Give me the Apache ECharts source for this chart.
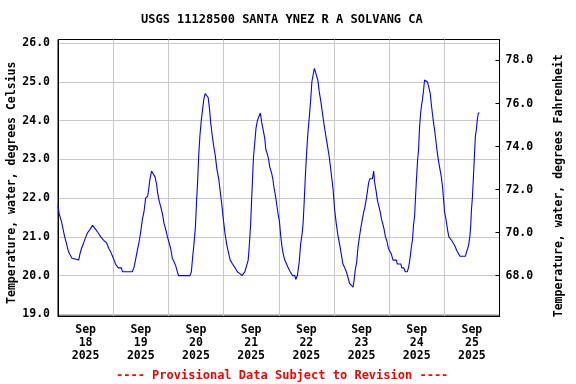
<!DOCTYPE html>
<html>
<head>
<meta charset="utf-8">
<script src="https://cdn.jsdelivr.net/npm/echarts@6/dist/echarts.min.js"></script>
<style>html,body{margin:0;padding:0;background:#fff}#c{width:576px;height:384px}</style>
</head>
<body>
<div id="c"></div>
<script>
// Hours since 2025-09-18 00:00 and water temperature (deg C)
const hours = [0,0.5,1.5,2.2,2.9,3.6,4.4,5.1,6.1,6.5,9.0,9.5,10.2,11.2,12.1,12.8,14.0,15.0,15.5,16.3,17.5,18.6,20.0,21.1,22.1,23.0,23.7,24.4,25.0,26.2,27.6,28.0,32.3,33.0,33.7,34.5,35.2,35.9,36.7,37.4,38.1,39.0,39.6,40.0,40.7,41.5,42.2,42.9,43.3,43.9,44.8,45.4,46.1,46.8,47.6,48.3,49.0,49.7,50.5,51.2,52.4,57.4,58.0,58.6,59.2,59.8,60.2,60.7,61.2,61.7,62.3,62.9,63.4,64.0,64.7,65.3,65.9,66.4,67.0,67.7,68.4,69.1,69.9,70.6,71.3,72.0,72.7,73.4,74.1,74.9,75.9,77.0,78.0,79.1,80.0,80.6,81.3,82.0,82.7,83.1,83.7,84.1,84.6,85.0,85.6,86.1,86.7,87.3,88.0,88.6,89.1,89.9,90.4,91.0,91.6,92.1,92.9,93.4,94.0,94.6,95.1,95.7,96.3,96.9,97.4,98.0,98.6,99.4,100.1,101.0,102.0,103.0,103.4,104.1,104.9,105.5,106.2,106.6,107.1,107.6,108.1,108.7,109.3,109.9,110.4,111.0,111.5,111.9,112.3,113.0,113.6,114.3,115.0,115.7,116.5,117.2,118.0,118.8,119.6,120.3,121.0,121.7,122.5,123.2,123.9,124.7,125.4,126.1,126.8,127.6,128.3,128.7,129.3,129.9,130.5,131.1,131.6,132.2,132.8,133.4,134.0,134.5,135.1,135.6,136.7,137.3,137.7,138.3,138.9,139.5,140.1,140.7,141.2,141.8,142.4,143.0,143.7,144.3,145.0,145.7,147.2,147.5,149.1,149.5,150.4,151.0,151.9,152.4,153.0,153.6,154.2,154.6,155.1,155.5,155.9,156.4,156.8,157.2,157.7,158.1,158.5,159.0,159.4,160.1,160.7,161.3,161.9,162.3,162.8,163.2,163.8,164.4,164.9,165.5,166.1,166.7,167.3,167.7,168.1,168.6,169.0,169.5,170.0,170.8,171.3,171.9,172.7,173.4,174.1,174.8,177.2,177.6,178.2,178.6,179.1,179.5,179.8,180.2,180.7,181.1,181.5,181.9,182.4,182.8,183.3];
const tempsC = [21.8,21.6,21.4,21.2,21.0,20.85,20.65,20.55,20.45,20.4,20.4,20.55,20.7,20.85,21.0,21.1,21.2,21.3,21.3,21.2,21.1,21.0,20.9,20.85,20.7,20.6,20.5,20.4,20.3,20.2,20.2,20.1,20.1,20.2,20.4,20.65,20.85,21.1,21.45,21.65,22.0,22.05,22.3,22.5,22.7,22.7,22.55,22.35,22.15,21.95,21.75,21.6,21.35,21.2,21.0,20.85,20.7,20.45,20.35,20.25,20.0,20.0,20.1,20.5,20.85,21.3,21.85,22.4,23.1,23.6,24.0,24.3,24.55,24.7,24.7,24.6,24.3,23.95,23.65,23.35,23.1,22.75,22.5,22.15,21.8,21.4,21.05,20.8,20.6,20.4,20.3,20.2,20.1,20.05,20.0,20.05,20.1,20.25,20.4,20.7,21.25,21.8,22.5,23.05,23.45,23.8,24.0,24.1,24.2,23.95,23.8,23.55,23.25,23.15,23.0,22.8,22.65,22.5,22.25,22.05,21.85,21.6,21.4,21.0,20.75,20.55,20.4,20.3,20.2,20.1,20.0,20.0,19.9,20.0,20.35,20.8,21.1,21.35,21.95,22.6,23.15,23.7,24.1,24.55,25.0,25.2,25.35,25.4,25.3,25.05,24.75,24.5,24.2,23.9,23.6,23.35,23.05,22.65,22.25,21.7,21.35,21.05,20.8,20.55,20.3,20.2,20.1,19.95,19.8,19.8,19.7,19.85,20.15,20.35,20.75,21.0,21.2,21.4,21.6,21.75,21.95,22.15,22.4,22.5,22.5,22.7,22.4,22.2,21.95,21.8,21.65,21.45,21.35,21.2,21.0,20.9,20.7,20.65,20.55,20.4,20.4,20.3,20.3,20.2,20.2,20.1,20.1,20.2,20.4,20.7,20.95,21.3,21.55,22.05,22.5,23.0,23.25,23.8,24.2,24.4,24.55,24.8,25.05,25.1,25.0,24.85,24.7,24.45,24.2,24.0,23.75,23.45,23.2,22.95,22.75,22.55,22.25,21.95,21.65,21.5,21.35,21.15,21.0,20.95,20.9,20.85,20.75,20.65,20.6,20.5,20.5,20.6,20.7,20.8,21.0,21.3,21.7,22.0,22.6,23.1,23.6,23.75,24.05,24.2,24.2];
const dayLabels = ['Sep\n18\n2025','Sep\n19\n2025','Sep\n20\n2025','Sep\n21\n2025','Sep\n22\n2025','Sep\n23\n2025','Sep\n24\n2025','Sep\n25\n2025'];
const labelHours = [12,36,60,84,108,132,156,180];
const celsiusTicks = [19,20,21,22,23,24,25,26];
const fahrenheitTicks = [68,70,72,74,76,78];
const titleText = 'USGS 11128500 SANTA YNEZ R A SOLVANG CA';
const footText = '---- Provisional Data Subject to Revision ----';

const cMin = 18.956, cMax = 26.098;
const F = c => c * 1.8 + 32;
const FONT = '"DejaVu Sans Mono", monospace';

const chart = echarts.init(document.getElementById('c'), null, {renderer: 'canvas'});
chart.setOption({
  animation: false,
  backgroundColor: '#fff',
  title: [
    {text: titleText, left: 141, top: 14, padding: 0,
     textStyle: {fontFamily: FONT, fontWeight: 'bold', fontSize: 12, color: '#000'}},
    {text: footText, left: 116, top: 370, padding: 0,
     textStyle: {fontFamily: FONT, fontWeight: 'bold', fontSize: 12, color: '#ff0000'}}
  ],
  grid: {left: 58, right: 76.5, top: 39.5, bottom: 68, outerBoundsMode: 'none', containLabel: false,
    show: true, borderColor: '#000', borderWidth: 1, backgroundColor: 'transparent'},
  xAxis: {
    type: 'value', min: 0, max: 192, interval: 24,
    axisLine: {show: true, lineStyle: {color: '#000', width: 1}},
    axisTick: {show: false},
    splitLine: {show: true, lineStyle: {color: '#c8c8c8', width: 1}},
    axisLabel: {
      customValues: labelHours,
      formatter: v => dayLabels[labelHours.indexOf(v)] || '',
      fontFamily: FONT, fontWeight: 'bold', fontSize: 11.5, color: '#000',
      lineHeight: 13, margin: 8, align: 'center'
    }
  },
  yAxis: [
    {
      type: 'value', min: cMin, max: cMax, position: 'left',
      name: 'Temperature, water, degrees Celsius', nameLocation: 'middle', nameGap: 40, nameMoveOverlap: false,
      nameTextStyle: {fontFamily: FONT, fontWeight: 'bold', fontSize: 11.5, color: '#000', padding: [0, 10, 0, 0]},
      axisLine: {show: true, lineStyle: {color: '#000', width: 1}},
      axisTick: {show: false, customValues: celsiusTicks},
      splitLine: {show: true, lineStyle: {color: '#c8c8c8', width: 1}},
      axisLabel: {customValues: celsiusTicks, formatter: v => v.toFixed(1),
        fontFamily: FONT, fontWeight: 'bold', fontSize: 11.5, color: '#000', margin: 8}
    },
    {
      type: 'value', min: F(cMin), max: F(cMax), position: 'right',
      name: 'Temperature, water, degrees Fahrenheit', nameLocation: 'middle', nameGap: 54, nameMoveOverlap: false,
      nameTextStyle: {fontFamily: FONT, fontWeight: 'bold', fontSize: 11.5, color: '#000', padding: [0, 16, 0, 0]},
      axisLine: {show: true, lineStyle: {color: '#000', width: 1}},
      axisTick: {show: true, inside: true, length: 4, customValues: fahrenheitTicks, lineStyle: {color: '#000'}},
      splitLine: {show: false},
      axisLabel: {customValues: fahrenheitTicks, formatter: v => v.toFixed(1),
        fontFamily: FONT, fontWeight: 'bold', fontSize: 11.5, color: '#000', margin: 6}
    }
  ],
  series: [{
    type: 'line', yAxisIndex: 0, showSymbol: false, symbol: 'none',
    data: hours.map((h, i) => [h, tempsC[i]]),
    lineStyle: {color: '#0000ff', width: 1.1},
    itemStyle: {color: '#0000ff'}
  }]
});
</script>
</body>
</html>
